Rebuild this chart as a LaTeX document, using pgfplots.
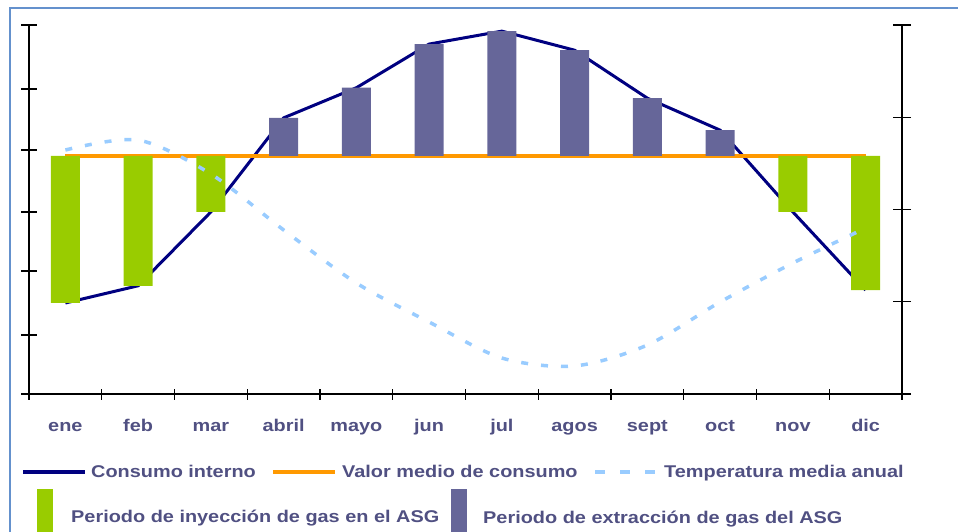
\documentclass[border=0pt]{standalone}
\usepackage{pgfplots}
\pgfplotsset{compat=1.18}
\usepackage{pgfplotstable}
\usepackage{fontspec}
\setmainfont{Liberation Sans}
\newfontfamily\lbl[FakeStretch=1.17]{Liberation Sans}
\newcommand\lblfont{\lbl\bfseries\fontsize{17}{20}\selectfont}
\definecolor{navyc}{RGB}{0,0,128}
\definecolor{orangec}{RGB}{255,153,0}
\definecolor{greenc}{RGB}{153,204,0}
\definecolor{purplec}{RGB}{102,102,153}
\definecolor{tempc}{RGB}{153,204,255}
\definecolor{txtc}{RGB}{80,80,130}
\definecolor{framec}{RGB}{100,145,205}
\def\M{3.87}
\pgfplotstableread{
m c
0 1.48
1 1.76
2 2.96
3 4.49
4 4.98
5 5.69
6 5.90
7 5.59
8 4.81
9 4.29
10 2.96
11 1.69
}\consumo
\pgfplotstableread{
m c
0 3.87
11 3.87
}\media
\pgfplotstableread{
m c
0 1.48
1 1.76
2 2.96
10 2.96
11 1.69
}\inyeccion
\pgfplotstableread{
m c
3 4.49
4 4.98
5 5.69
6 5.90
7 5.59
8 4.81
9 4.29
}\extraccion
\pgfplotstableread{
m t
0 2.645
1 2.753
2 2.385
3 1.778
4 1.203
5 0.780
6 0.390
7 0.304
8 0.531
9 0.997
10 1.420
11 1.799
}\temperatura
\begin{document}
\begin{tikzpicture}[x=1pt,y=1pt]
\useasboundingbox (0,0) rectangle (958,531);
\begin{axis}[
  at={(29pt,137pt)}, anchor=south west,
  scale only axis, width=873pt, height=369pt,
  xmin=-0.5, xmax=11.5, ymin=-3.87, ymax=2.13,
  axis x line=bottom, axis y line=left,
  axis line style={-, black, line width=1.2pt},
  xtick={0,...,11},
  xticklabels={ene,feb,mar,abril,mayo,jun,jul,agos,sept,oct,nov,dic},
  every major x tick/.style={draw=none},
  minor xtick={-0.5,0.5,...,11.5},
  ytick={-3.87,-2.911,-1.87,-0.911,0.097,1.089,2.13},
  yticklabels={},
  tick align=center,
  major tick length=16pt, minor tick length=11pt,
  tick style={black, line width=1.2pt},
  xticklabel style={font=\lblfont, text=txtc, anchor=base, yshift=-29pt},
  xticklabel shift=0pt,
]
\addplot[navyc, line width=3pt] table[x=m, y expr=\thisrow{c}-\M] {\consumo};
\addplot[orangec, line width=4pt] table[x=m, y expr=\thisrow{c}-\M] {\media};
\addplot[ybar, bar width=29pt, bar shift=0pt, fill=greenc, draw=none] table[x=m, y expr=\thisrow{c}-\M] {\inyeccion};
\addplot[ybar, bar width=29pt, bar shift=0pt, fill=purplec, draw=none] table[x=m, y expr=\thisrow{c}-\M] {\extraccion};
\end{axis}
\begin{axis}[
  at={(29pt,137pt)}, anchor=south west,
  scale only axis, width=873pt, height=369pt,
  xmin=-0.5, xmax=11.5, ymin=0, ymax=4,
  axis x line=none, axis y line*=right,
  axis line style={-, black, line width=1.2pt},
  ytick={0,1,2,3,4}, yticklabels={},
  tick align=center, major tick length=18pt,
  tick style={black, line width=1.2pt},
]
\addplot[tempc, line width=3.5pt, dash pattern=on 7pt off 13pt, smooth] table[x=m, y=t] {\temperatura};
\end{axis}
\draw[framec, line width=2pt] (10,-5) -- (10,523) -- (965,523);
\draw[navyc, line width=3.5pt] (23,59) -- (85,59);
\node[anchor=base west, text=txtc, font=\lblfont, inner sep=0pt] at (91,54) {Consumo interno};
\draw[orangec, line width=4pt] (273,59) -- (335,59);
\node[anchor=base west, text=txtc, font=\lblfont, inner sep=0pt] at (342,54) {Valor medio de consumo};
\draw[tempc, line width=4pt, dash pattern=on 10pt off 15pt] (595,59) -- (655,59);
\node[anchor=base west, text=txtc, font=\lblfont, inner sep=0pt] at (664,54) {Temperatura media anual};
\fill[greenc] (37,-2) rectangle (53,42);
\node[anchor=base west, text=txtc, font=\lblfont, inner sep=0pt] at (71,9) {Periodo de inyección de gas en el ASG};
\fill[purplec] (451,-2) rectangle (467,42);
\node[anchor=base west, text=txtc, font=\lblfont, inner sep=0pt] at (483,8) {Periodo de extracción de gas del ASG};
\end{tikzpicture}
\end{document}
